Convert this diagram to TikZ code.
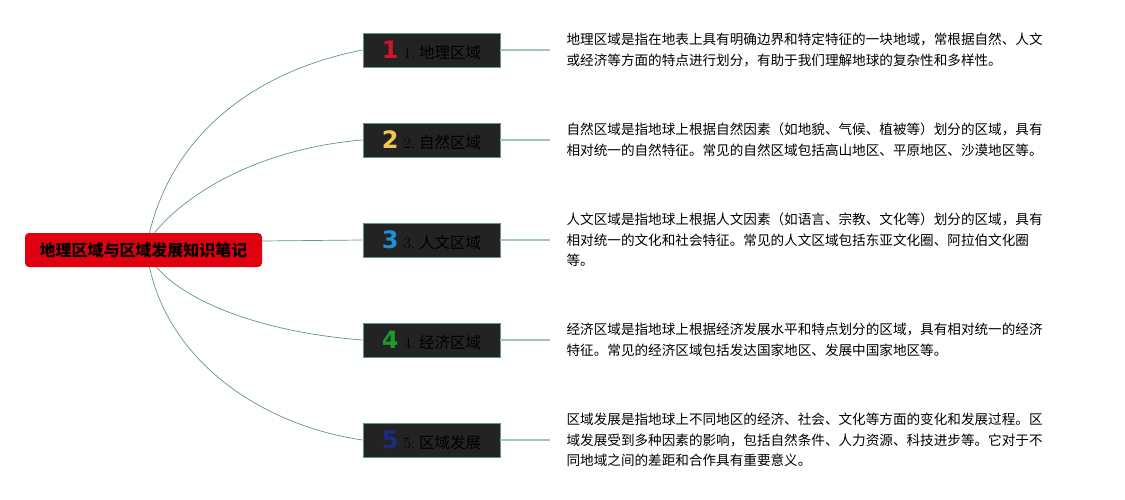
\documentclass[tikz,border=0pt]{standalone}
\usepackage{fontspec}
\newfontfamily\cjk{Noto Sans CJK SC}
\newfontfamily\numfont{DejaVu Sans}
\usepackage{tikz}
\usetikzlibrary{positioning}

\definecolor{rootred}{HTML}{E10010}
\definecolor{boxdark}{HTML}{232323}
\definecolor{edgegreen}{HTML}{5E9786}
\definecolor{stubgreen}{HTML}{A3C4BA}
\definecolor{numred}{HTML}{D3122B}
\definecolor{numyellow}{HTML}{EFC94C}
\definecolor{numblue}{HTML}{1F8FD6}
\definecolor{numgreen}{HTML}{1E9A2C}
\definecolor{numnavy}{HTML}{1C2C86}

\newcommand\badge[2]{{\numfont\fontsize{24}{24}\selectfont\bfseries\color{#1}#2}\hspace{5pt}{\rmfamily\fontsize{16}{16}\selectfont #2.}\hspace{4pt}}

\begin{document}
\begin{tikzpicture}[x=1pt, y=-1pt, node distance=16pt, every node/.style={font=\cjk}]
\useasboundingbox (0,0) rectangle (1125,500);

\tikzstyle{root} = [rectangle, rounded corners=4pt, fill=rootred, text=black, minimum width=237pt, minimum height=34pt, font=\cjk\fontsize{16}{16}\selectfont\bfseries]
\tikzstyle{topic} = [rectangle, draw=edgegreen, line width=0.8pt, fill=boxdark, text=black, minimum width=137pt, minimum height=34pt, inner sep=0pt, font=\cjk\fontsize{15.5}{15.5}\selectfont]
\tikzstyle{note} = [align=left, inner sep=0pt, text=black, font=\cjk\fontsize{13.6}{20.5}\selectfont]
\tikzstyle{branch} = [edgegreen, line width=0.7pt]
\tikzstyle{stub} = [stubgreen, line width=1.2pt]

% Root
\node[root] (root) at (143.5,250) {地理区域与区域发展知识笔记};

% Topics
\node[topic] (geo) at (431.5,50) {\badge{numred}{1}地理区域};
\node[topic] (nat) at (431.5,140) {\badge{numyellow}{2}自然区域};
\node[topic] (hum) at (431.5,240) {\badge{numblue}{3}人文区域};
\node[topic] (eco) at (431.5,340) {\badge{numgreen}{4}经济区域};
\node[topic] (dev) at (431.5,440) {\badge{numnavy}{5}区域发展};

% Branches
\draw[branch] ([xshift=6pt]root.north) .. controls +(25,-103) and +(-103,20) .. (geo.west);
\draw[branch] ([xshift=11pt]root.north) .. controls +(35,-43) and +(-98,8) .. (nat.west);
\draw[branch] ([yshift=9pt]root.east) -- (hum.west);
\draw[branch] ([xshift=13pt]root.south) .. controls +(33,38) and +(-93,-7) .. (eco.west);
\draw[branch] ([xshift=6pt]root.south) .. controls +(20,93) and +(-103,-15) .. (dev.west);

% Notes
\draw[stub] (geo.east) -- ++(50,0) coordinate (geoEnd);
\draw[stub] (nat.east) -- ++(50,0) coordinate (natEnd);
\draw[stub] (hum.east) -- ++(50,0) coordinate (humEnd);
\draw[stub] (eco.east) -- ++(50,0) coordinate (ecoEnd);
\draw[stub] (dev.east) -- ++(50,0) coordinate (devEnd);

\node[note, right=of geoEnd] (geoText) {地理区域是指在地表上具有明确边界和特定特征的一块地域，常根据自然、人文\\或经济等方面的特点进行划分，有助于我们理解地球的复杂性和多样性。};
\node[note, right=of natEnd] (natText) {自然区域是指地球上根据自然因素（如地貌、气候、植被等）划分的区域，具有\\相对统一的自然特征。常见的自然区域包括高山地区、平原地区、沙漠地区等。};
\node[note, right=of humEnd] (humText) {人文区域是指地球上根据人文因素（如语言、宗教、文化等）划分的区域，具有\\相对统一的文化和社会特征。常见的人文区域包括东亚文化圈、阿拉伯文化圈\\等。};
\node[note, right=of ecoEnd] (ecoText) {经济区域是指地球上根据经济发展水平和特点划分的区域，具有相对统一的经济\\特征。常见的经济区域包括发达国家地区、发展中国家地区等。};
\node[note, right=of devEnd] (devText) {区域发展是指地球上不同地区的经济、社会、文化等方面的变化和发展过程。区\\域发展受到多种因素的影响，包括自然条件、人力资源、科技进步等。它对于不\\同地域之间的差距和合作具有重要意义。};

\end{tikzpicture}
\end{document}
